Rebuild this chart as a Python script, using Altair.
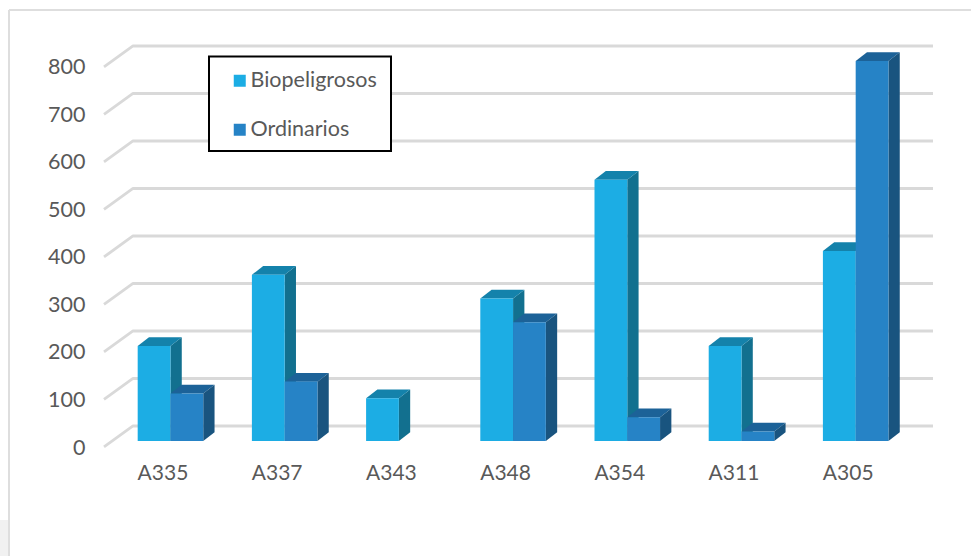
import json
import altair as alt
import pandas as pd

categories = ["A335", "A337", "A343", "A348", "A354", "A311", "A305"]
biopeligrosos = [200, 350, 90, 300, 550, 200, 400]
ordinarios = [100, 125, None, 250, 50, 20, 800]
y_ticks = [0, 100, 200, 300, 400, 500, 600, 700, 800]

FONT = "Lato"
TEXT = "#595959"
GRID = "#D9D9D9"
BIO = "#1CADE4"
ORD = "#2683C6"

# Pseudo-3D geometry, in scale units: x in category steps, y in chart values
BAR_W = 0.287
BAR_DX = 0.099
BAR_DY = 18.3
FLOOR_FRONT = -12.6
FLOOR_BACK = 31.6
X_MIN, X_MAX = -0.582, 6.677
Y_MIN, Y_MAX = -12.63, 844.2

x_scale = alt.Scale(domain=[X_MIN, X_MAX], nice=False, zero=False)
y_scale = alt.Scale(domain=[Y_MIN, Y_MAX], nice=False, zero=False)

label_expr = json.dumps(categories) + "[datum.value]"
x_axis = alt.Axis(
    values=list(range(len(categories))), labelExpr=label_expr, title=None,
    domain=False, ticks=False, grid=False, labelFont=FONT, labelFontSize=21,
    labelColor=TEXT, labelPadding=15, labelOffset=-8, labelOverlap=False,
    labelFlush=False)
y_axis = alt.Axis(
    values=y_ticks, title=None, domain=False, ticks=False, grid=False,
    labelFont=FONT, labelFontSize=21.5, labelColor=TEXT, labelPadding=19,
    labelOffset=7, labelOverlap=False, labelFlush=False)

X = alt.X("x:Q", scale=x_scale, axis=x_axis)
Y = alt.Y("y:Q", scale=y_scale, axis=y_axis)


def bar_tables(values, name, lead):
    """Front, side and top faces of one series' bars."""
    front, side, top = [], [], []
    for i, v in enumerate(values):
        if v is None:
            continue
        x0 = i + lead * BAR_W
        x1 = x0 + BAR_W
        front.append({"series": name, "x": x0, "x2": x1, "y": v, "y2": 0})
        for k in (0, 1):
            side.append({"bar": i, "x": x1 + k * BAR_DX, "y": v + k * BAR_DY, "y2": k * BAR_DY})
        # The slanted top face as four stops of a vertical band
        top += [
            {"bar": i, "x": x0, "y": v, "y2": v},
            {"bar": i, "x": x0 + BAR_DX, "y": v + BAR_DY, "y2": v},
            {"bar": i, "x": x1, "y": v + BAR_DY, "y2": v},
            {"bar": i, "x": x1 + BAR_DX, "y": v + BAR_DY, "y2": v + BAR_DY},
        ]
    return front, pd.DataFrame(side), pd.DataFrame(top)


bio_front, bio_side, bio_top = bar_tables(biopeligrosos, "Biopeligrosos", -1)
ord_front, ord_side, ord_top = bar_tables(ordinarios, "Ordinarios", 0)


def face_layer(df, colour):
    return alt.Chart(df).mark_area(color=colour, opacity=1).encode(
        x=X, y=Y, y2="y2:Q", detail="bar:N"
    )


# Back wall lines with their diagonal run across the floor
grid_rows = []
for t in y_ticks:
    grid_rows += [
        {"tick": t, "x": X_MIN, "y": t + FLOOR_FRONT},
        {"tick": t, "x": X_MIN + 0.254, "y": t + FLOOR_BACK},
        {"tick": t, "x": X_MAX, "y": t + FLOOR_BACK},
    ]
grid = alt.Chart(pd.DataFrame(grid_rows)).mark_line(
    color=GRID, strokeWidth=2.8, strokeJoin="round"
).encode(x=X, y=Y, detail="tick:N")

fronts = alt.Chart(pd.DataFrame(bio_front + ord_front)).mark_rect().encode(
    x=X, x2="x2:Q", y=Y, y2="y2:Q",
    color=alt.Color("series:N", scale=alt.Scale(
        domain=["Biopeligrosos", "Ordinarios"], range=[BIO, ORD]),
        legend=alt.Legend(
            orient="none", legendX=125, legendY=30, title=None,
            symbolType="square", symbolSize=144, symbolStrokeWidth=0,
            labelFont=FONT, labelFontSize=21.5, labelColor=TEXT, labelOffset=0,
            rowPadding=26, padding=0, labelLimit=200)),
)

# Box behind the legend entries, and the slide's outer frame
one = pd.DataFrame({"a": [0]})
legend_box = alt.Chart(one).mark_rect(fill="white", stroke="black", strokeWidth=2).encode(
    x=alt.value(105), x2=alt.value(287), y=alt.value(16.5), y2=alt.value(111)
)
frame_top = alt.Chart(one).mark_rule(color="#DEDEDE", strokeWidth=2).encode(
    x=alt.value(-95), x2=alt.value(867), y=alt.value(-30)
)
frame_left = alt.Chart(one).mark_rule(color="#DEDEDE", strokeWidth=2).encode(
    x=alt.value(-95), y=alt.value(-30), y2=alt.value(516)
)
corner = alt.Chart(one).mark_rect(fill="#F1F1F1").encode(
    x=alt.value(-104), x2=alt.value(-96), y=alt.value(480), y2=alt.value(516)
)

chart = alt.layer(
    corner, frame_top, frame_left, grid, legend_box,
    face_layer(bio_side, "#12708F"), face_layer(bio_top, "#1482AB"),
    face_layer(ord_top, "#1C6298"), face_layer(ord_side, "#19547F"),
    fronts,
).properties(
    width=829, height=407,
    padding={"left": 104, "top": 40, "right": 38, "bottom": 109},
    autosize=alt.AutoSizeParams(type="none"),
    background="white",
).configure_view(stroke=None)

chart.save("out.html", embed_options={"renderer": "svg", "actions": False})
